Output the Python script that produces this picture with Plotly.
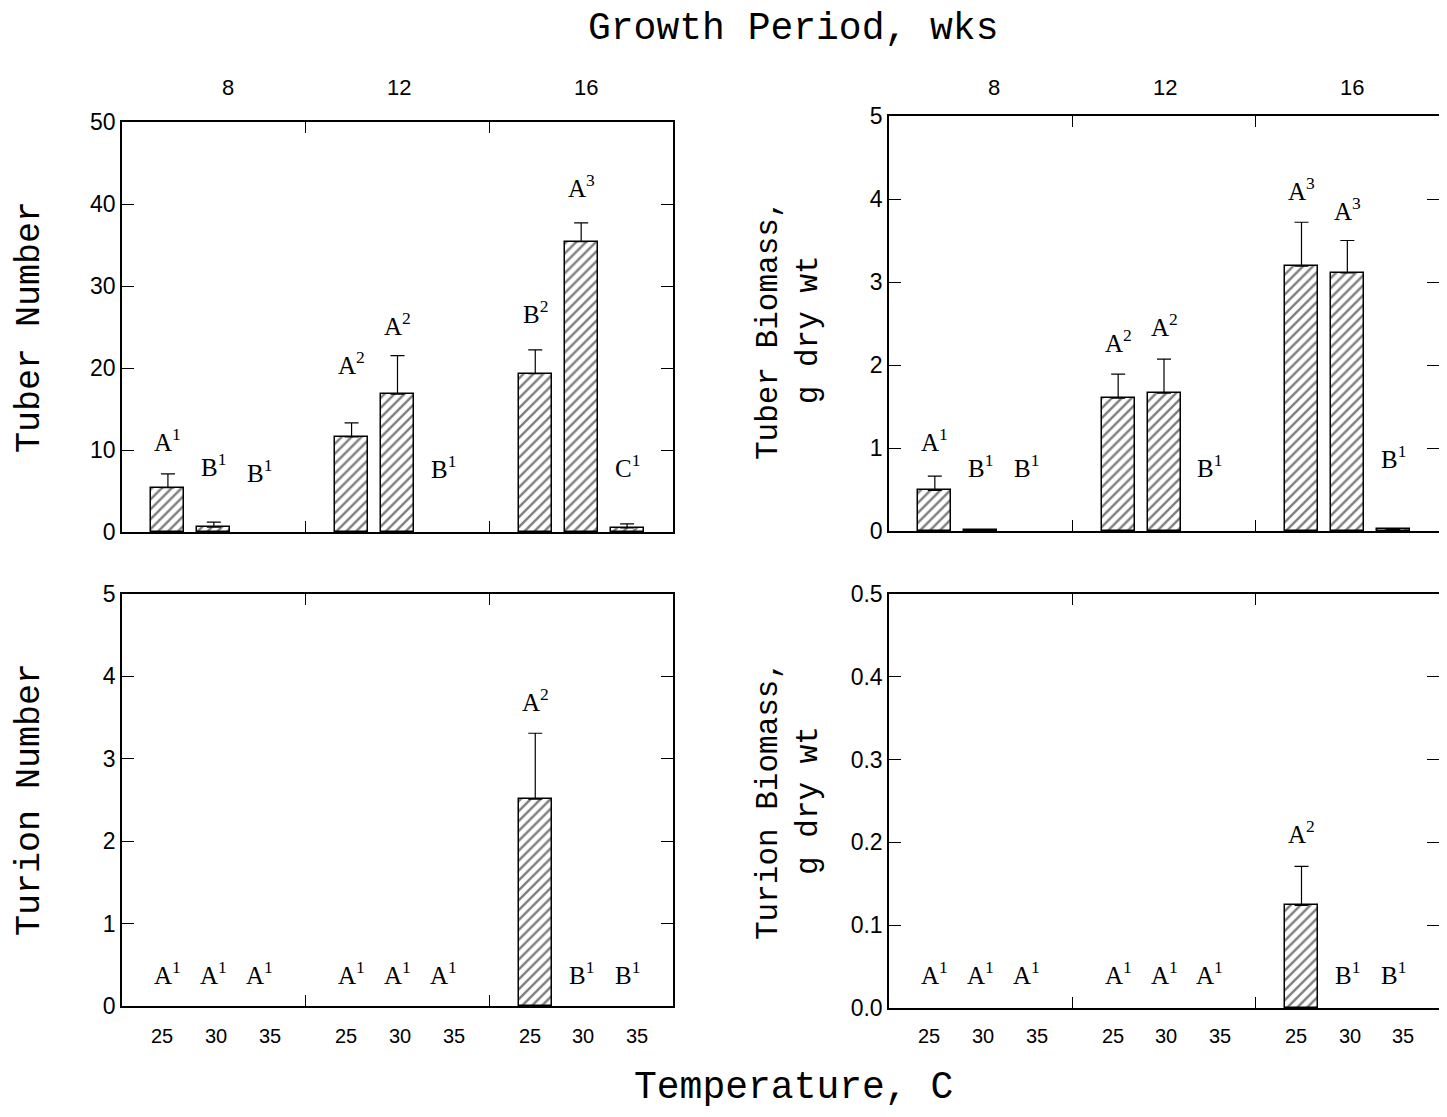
import plotly.graph_objects as go

weeks = [8, 12, 16]
temps = [25, 30, 35]

# Tuber number (top-left)
tuber_num = [5.4, 0.6, 0.0, 11.6, 16.8, 0.0, 19.3, 35.4, 0.5]
tuber_num_err = [1.7, 0.6, 0.0, 1.7, 4.7, 0.0, 2.9, 2.3, 0.5]
tuber_num_lbl = ["A1", "B1", "B1", "A2", "A2", "B1", "B2", "A3", "C1"]
tuber_num_lbl_y = [11.2, 8.2, 7.4, 20.6, 25.4, 7.9, 26.8, 42.2, 8.0]

# Tuber biomass (top-right)
tuber_bio = [0.49, 0.01, 0.0, 1.60, 1.66, 0.0, 3.19, 3.11, 0.02]
tuber_bio_err = [0.17, 0.0, 0.0, 0.29, 0.41, 0.0, 0.53, 0.39, 0.0]
tuber_bio_lbl = ["A1", "B1", "B1", "A2", "A2", "B1", "A3", "A3", "B1"]
tuber_bio_lbl_y = [1.10, 0.78, 0.78, 2.29, 2.48, 0.78, 4.12, 3.88, 0.89]

# Turion number (bottom-left)
turion_num = [0, 0, 0, 0, 0, 0, 2.51, 0, 0]
turion_num_err = [0, 0, 0, 0, 0, 0, 0.80, 0, 0]
turion_num_lbl = ["A1", "A1", "A1", "A1", "A1", "A1", "A2", "B1", "B1"]
turion_num_lbl_y = [0.4, 0.4, 0.4, 0.4, 0.4, 0.4, 3.71, 0.4, 0.4]

# Turion biomass (bottom-right)
turion_bio = [0, 0, 0, 0, 0, 0, 0.124, 0, 0]
turion_bio_err = [0, 0, 0, 0, 0, 0, 0.047, 0, 0]
turion_bio_lbl = ["A1", "A1", "A1", "A1", "A1", "A1", "A2", "B1", "B1"]
turion_bio_lbl_y = [0.042, 0.042, 0.042, 0.042, 0.042, 0.042, 0.213, 0.042, 0.042]

# bar positions: each growth period occupies 4 units, bars at offsets 1,2,3
xpos = [4 * g + t + 1 for g in range(len(weeks)) for t in range(len(temps))]

SERIF_MONO = "Liberation Mono, Courier New, monospace"
SANS = "Liberation Sans, Arial, sans-serif"
SERIF = "Liberation Serif, Times New Roman, serif"

# page body has an 8px margin: figure is sized to fit inside the window
W, H, OFF = 1431, 1101, 8


def px_x(p):
    return (p - OFF) / W


def px_y(p):
    return 1 - (p - OFF) / H


fig = go.Figure()

panels = [
    (tuber_num, tuber_num_err, tuber_num_lbl, tuber_num_lbl_y, "x", "y"),
    (tuber_bio, tuber_bio_err, tuber_bio_lbl, tuber_bio_lbl_y, "x2", "y2"),
    (turion_num, turion_num_err, turion_num_lbl, turion_num_lbl_y, "x3", "y3"),
    (turion_bio, turion_bio_err, turion_bio_lbl, turion_bio_lbl_y, "x4", "y4"),
]

annotations = []
for vals, errs, lbls, lys, xa, ya in panels:
    fig.add_trace(go.Bar(
        x=xpos, y=[v if v > 0 else None for v in vals], width=0.72, xaxis=xa, yaxis=ya,
        marker=dict(color="white",
                    line=dict(color="black", width=1.5),
                    pattern=dict(shape="/", fgcolor="black", bgcolor="white",
                                 size=7, solidity=0.35)),
        error_y=dict(type="data", symmetric=False,
                     array=[e if e > 0 else None for e in errs],
                     arrayminus=[0] * len(errs), color="black",
                     thickness=1.2, width=7),
        showlegend=False,
    ))
    for xv, lb, ly in zip(xpos, lbls, lys):
        annotations.append(dict(
            x=xv, y=ly, xref=xa, yref=ya, showarrow=False,
            text=f"{lb[0]}<sup>{lb[1:]}</sup>",
            font=dict(family=SERIF, size=25, color="black"),
            xanchor="center", yanchor="middle",
        ))
    if xa in ("x3", "x4"):
        for g in range(len(weeks)):
            for t, tv in enumerate(temps):
                annotations.append(dict(
                    x=4 * g + 2.05 + 1.17 * (t - 1), y=px_y(1036), xref=xa, yref="paper",
                    showarrow=False, text=str(tv),
                    font=dict(family=SANS, size=20, color="black"),
                    xanchor="center", yanchor="middle"))
    if xa in ("x", "x2"):
        for g, wv in enumerate(weeks):
            annotations.append(dict(
                x=4 * g + 2.0 + [0.3, 0.03, 0.1][g], y=px_y(88), xref=xa, yref="paper",
                showarrow=False, text=str(wv),
                font=dict(family=SANS, size=22, color="black"),
                xanchor="center", yanchor="middle"))

annotations += [
    dict(x=px_x(793), y=px_y(28), xref="paper", yref="paper", showarrow=False,
         text="Growth Period, wks", font=dict(family=SERIF_MONO, size=38, color="black"),
         xanchor="center", yanchor="middle"),
    dict(x=px_x(793), y=px_y(1087), xref="paper", yref="paper", showarrow=False,
         text="Temperature, C", font=dict(family=SERIF_MONO, size=38, color="black"),
         xanchor="center", yanchor="middle"),
    dict(x=px_x(30), y=px_y(327), xref="paper", yref="paper", showarrow=False,
         text="Tuber Number", textangle=-90,
         font=dict(family=SERIF_MONO, size=35, color="black"),
         xanchor="center", yanchor="middle"),
    dict(x=px_x(30), y=px_y(800), xref="paper", yref="paper", showarrow=False,
         text="Turion Number", textangle=-90,
         font=dict(family=SERIF_MONO, size=35, color="black"),
         xanchor="center", yanchor="middle"),
    dict(x=px_x(788), y=px_y(330), xref="paper", yref="paper", showarrow=False,
         text="Tuber Biomass,<br>g dry wt", textangle=-90,
         font=dict(family=SERIF_MONO, size=31, color="black"),
         xanchor="center", yanchor="middle"),
    dict(x=px_x(788), y=px_y(800), xref="paper", yref="paper", showarrow=False,
         text="Turion Biomass,<br>g dry wt", textangle=-90,
         font=dict(family=SERIF_MONO, size=31, color="black"),
         xanchor="center", yanchor="middle"),
]

xcommon = dict(range=[0, 12], tickvals=[4, 8], ticks="inside", ticklen=11,
               tickcolor="black", tickwidth=1.2, showticklabels=False,
               showline=True, linecolor="black", linewidth=1.5, mirror="ticks",
               showgrid=False, zeroline=False, automargin=False)
ycommon = dict(ticks="inside", ticklen=12, tickcolor="black", tickwidth=1.2,
               showline=True, linecolor="black", linewidth=1.5, mirror="ticks",
               showgrid=False, zeroline=False, automargin=False,
               tickfont=dict(family=SANS, size=23, color="black"))

LX = [px_x(122), px_x(673)]
RX = [px_x(889), 1.0]

fig.update_layout(
    width=W, height=H,
    margin=dict(l=0, r=0, t=0, b=0, autoexpand=False),
    paper_bgcolor="white", plot_bgcolor="white",
    xaxis=dict(domain=LX, anchor="y", **xcommon),
    xaxis2=dict(domain=RX, anchor="y2", **xcommon),
    xaxis3=dict(domain=LX, anchor="y3", **xcommon),
    xaxis4=dict(domain=RX, anchor="y4", **xcommon),
    yaxis=dict(domain=[px_y(532), px_y(122)], anchor="x", range=[0, 50], dtick=10, **ycommon),
    yaxis2=dict(domain=[px_y(531), px_y(116)], anchor="x2", range=[0, 5], dtick=1, **ycommon),
    yaxis3=dict(domain=[px_y(1006), px_y(594)], anchor="x3", range=[0, 5], dtick=1, **ycommon),
    yaxis4=dict(domain=[px_y(1008), px_y(594)], anchor="x4", range=[0, 0.5], dtick=0.1,
                tickformat=".1f", **ycommon),
    annotations=annotations,
    bargap=0,
)

fig.write_html("out.html")
